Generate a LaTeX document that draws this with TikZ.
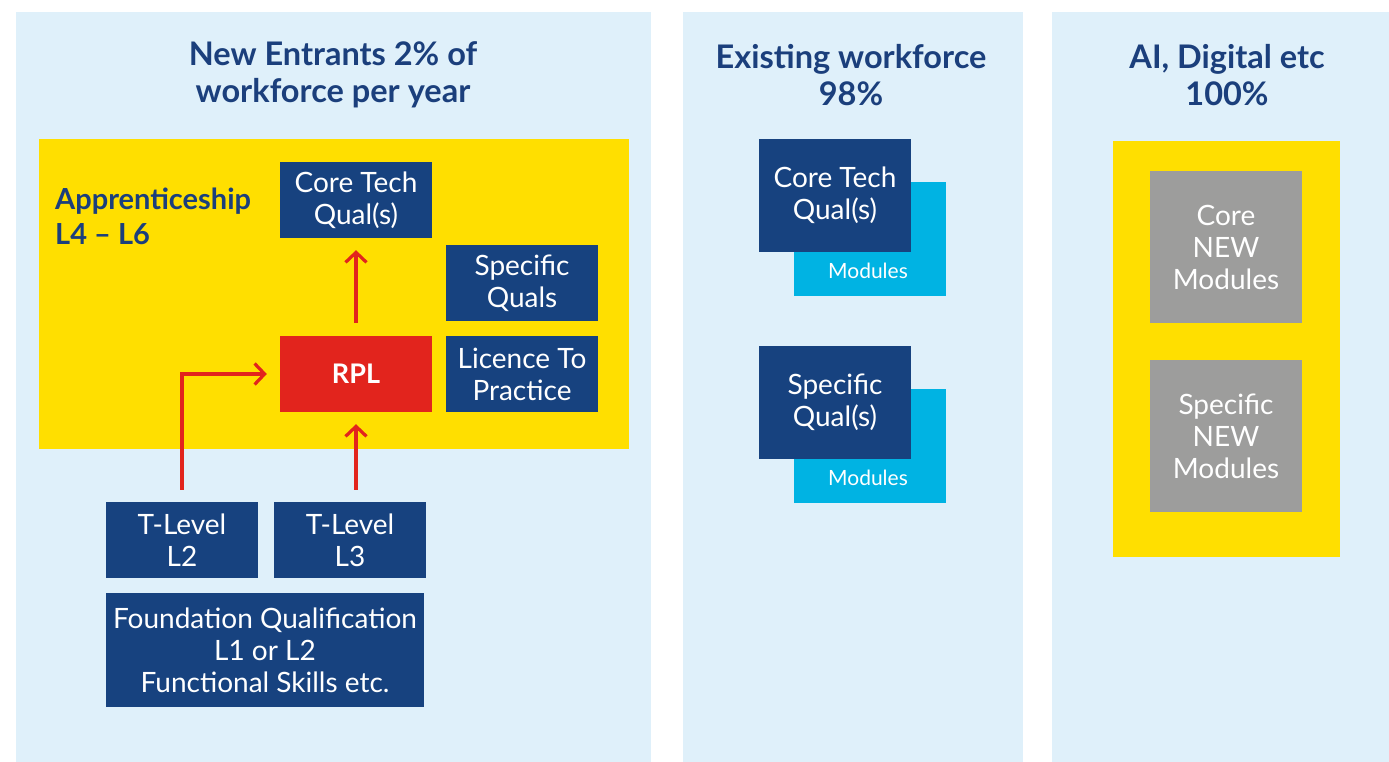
\documentclass[tikz,border=0pt]{standalone}
\usepackage{fontspec}
\setmainfont{Lato}
\usetikzlibrary{arrows.meta}
\definecolor{panelbg}{HTML}{DFF0FA}
\definecolor{ayellow}{HTML}{FFDF00}
\definecolor{dblue}{HTML}{17427F}
\definecolor{tblue}{HTML}{1B3F7C}
\definecolor{rplred}{HTML}{E2241D}
\definecolor{acyan}{HTML}{00B3E3}
\definecolor{agray}{HTML}{9D9D9C}
\tikzset{
  panel/.style={fill=panelbg, draw=none},
  ybox/.style={fill=ayellow, draw=none},
  title/.style={text=tblue, font=\fontsize{32.5}{37}\selectfont\bfseries, align=center},
  qbox/.style={fill=dblue, text=white, draw=none, inner sep=0pt, minimum width=152pt, minimum height=76pt, align=center, font=\fontsize{28}{32}\selectfont},
  rbox/.style={qbox, fill=rplred, font=\fontsize{27}{32}\selectfont\bfseries},
  cbox/.style={fill=acyan, draw=none, inner sep=0pt, minimum width=152pt, minimum height=114pt},
  gbox/.style={qbox, fill=agray, minimum height=152pt},
  modtxt/.style={text=white, font=\fontsize{21}{24}\selectfont},
  arr/.style={draw=rplred, line width=3.2pt, -{Straight Barb[length=10pt,width=21pt,line width=3.2pt]}},
}
\begin{document}
\begin{tikzpicture}[x=1pt,y=-1pt]
\useasboundingbox (0,0) rectangle (1389,762);
% panels
\fill[panel] (16,12) rectangle (651,762);
\fill[panel] (683,12) rectangle (1023,762);
\fill[panel] (1052,12) rectangle (1389,762);
% titles
\node[title] (t1) at (333,75) {New Entrants 2\% of\\workforce per year};
\node[title] (t2) at (851,75) {Existing workforce\\98\%};
\node[title] (t3) at (1227,75) {AI, Digital etc\\100\%};
% panel 1
\fill[ybox] (39,139) rectangle (629,449);
\node[text=tblue, font=\fontsize{29}{35}\selectfont\bfseries, align=left, anchor=north west, inner sep=0pt] (app) at (55,188) {Apprenticeship\\L4 -- L6};
\node[qbox] (core) at (356,200) {Core Tech\\Qual(s)};
\node[qbox] (spec) at (522,283) {Specific\\Quals};
\node[rbox] (rpl) at (356,374) {RPL};
\node[qbox] (lic) at (522,374) {Licence To\\Practice};
\node[qbox] (tl2) at (182,540) {T-Level\\L2};
\node[qbox] (tl3) at (350,540) {T-Level\\L3};
\node[qbox, minimum width=318pt, minimum height=114pt] (found) at (265,650) {Foundation Qualification\\L1 or L2\\Functional Skills etc.};
\draw[arr, shorten <=13pt, shorten >=12pt] (rpl.north) -- (core.south);
\draw[arr, shorten <=12pt, shorten >=12pt] (rpl.south |- tl3.north) -- (rpl.south);
\draw[arr, shorten <=12pt, shorten >=13pt] (tl2.north) |- (rpl.west);
% panel 2
\node[cbox] (m1) at (870,239) {};
\node[qbox, minimum height=113pt] (ect) at (835,195.5) {Core Tech\\Qual(s)};
\node[modtxt] (m1t) at (868,271) {Modules};
\node[cbox] (m2) at (870,446) {};
\node[qbox, minimum height=113pt] (esq) at (835,402.5) {Specific\\Qual(s)};
\node[modtxt] (m2t) at (868,478) {Modules};
% panel 3
\fill[ybox] (1113,141) rectangle (1340,557);
\node[gbox] (cnew) at (1226,247) {Core\\NEW\\Modules};
\node[gbox] (snew) at (1226,436) {Specific\\NEW\\Modules};
\end{tikzpicture}
\end{document}
